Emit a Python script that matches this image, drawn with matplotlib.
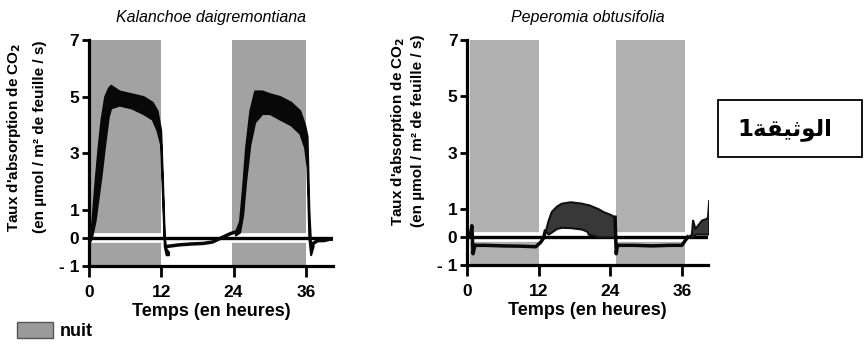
import numpy as np
import matplotlib
matplotlib.use('Agg')
import matplotlib.pyplot as plt
from matplotlib.patches import Rectangle

plt.rcParams['font.family'] = ['Liberation Sans', 'DejaVu Sans']

# Kalanchoe daigremontiana (CAM plant)
k_nights = [(0.2, 12.0), (23.7, 36.0)]
k_t1 = [0.0, 0.4, 1.0, 1.5, 2.0, 2.6, 3.2, 3.6, 5.0, 7.0, 9.0, 10.5, 11.3, 11.9, 12.2, 12.5, 12.8, 13.2]
k_up1 = [0.0, 0.4, 2.0, 3.2, 4.2, 5.0, 5.3, 5.4, 5.2, 5.1, 5.0, 4.8, 4.5, 3.8, 2.0, 0.0, -0.4, -0.5]
k_lo1 = [-0.2, 0.0, 0.6, 1.4, 2.2, 3.3, 4.3, 4.6, 4.7, 4.6, 4.4, 4.2, 3.8, 3.3, 1.5, -0.3, -0.6, -0.6]
k_td = [13.2, 15.0, 17.0, 19.0, 20.5, 21.5, 22.5, 23.5, 24.3]
k_vd = [-0.3, -0.25, -0.22, -0.2, -0.15, -0.05, 0.05, 0.15, 0.2]
k_t2 = [24.3, 25.0, 25.5, 26.0, 26.7, 27.5, 28.7, 30.0, 31.7, 33.5, 35.0, 35.8, 36.2, 36.5, 36.8, 37.2]
k_up2 = [0.2, 0.6, 1.8, 3.2, 4.5, 5.2, 5.2, 5.1, 5.0, 4.8, 4.5, 4.0, 3.6, 1.0, -0.3, -0.2]
k_lo2 = [0.1, 0.2, 0.8, 2.0, 3.3, 4.1, 4.4, 4.4, 4.2, 4.0, 3.7, 3.2, 2.5, 0.0, -0.6, -0.3]
k_t3 = [37.2, 38.0, 39.0, 40.0, 40.5]
k_v3 = [-0.2, -0.1, -0.1, -0.05, -0.05]

# Peperomia obtusifolia (C3 plant)
p_nights = [(0.5, 12.0), (25.0, 36.5)]
p_tn1 = [0.5, 0.8, 1.0, 1.3, 3.0, 6.0, 9.0, 11.5, 12.3, 12.8, 13.1]
p_vn1 = [0.0, 0.4, -0.6, -0.3, -0.3, -0.32, -0.33, -0.35, -0.2, -0.05, 0.2]
p_td = [13.1, 13.6, 14.1, 15.0, 15.8, 17.3, 19.2, 20.1, 20.3, 22.0, 22.8, 24.0, 24.8]
p_up = [0.2, 0.6, 0.9, 1.1, 1.2, 1.25, 1.2, 1.15, 1.15, 1.0, 0.9, 0.8, 0.7]
p_lo = [0.2, 0.1, 0.17, 0.3, 0.34, 0.33, 0.28, 0.2, 0.1, 0.0, 0.0, 0.0, 0.0]
p_tn2 = [24.8, 25.0, 25.2, 25.5, 28.0, 31.0, 34.0, 36.0, 37.0]
p_vn2 = [0.7, -0.6, -0.3, -0.3, -0.3, -0.32, -0.3, -0.3, 0.0]
p_t3 = [37.0, 37.6, 37.8, 38.2, 39.3, 40.0, 40.3, 40.5]
p_up3 = [0.0, 0.1, 0.6, 0.3, 0.6, 0.65, 0.7, 1.3]
p_lo3 = [0.0, 0.0, 0.0, 0.1, 0.1, 0.1, 0.1, 0.1]

yticks = [-1, 0, 1, 3, 5, 7]
ytick_labels = ['- 1', '0', '1', '3', '5', '7']
xticks = [0, 12, 24, 36]

fig = plt.figure(figsize=(8.65, 3.47), dpi=100)


def setup_axes(ax, xmax, title):
    ax.set_xlim(0, xmax)
    ax.set_ylim(-1, 7)
    for s in ['top', 'right']:
        ax.spines[s].set_visible(False)
    for s in ['left', 'bottom']:
        ax.spines[s].set_linewidth(2.3)
    ax.set_yticks(yticks)
    ax.set_yticklabels(ytick_labels, fontsize=12.5, fontweight='bold')
    ax.set_xticks(xticks)
    ax.set_xticklabels([str(x) for x in xticks], fontsize=12.5, fontweight='bold')
    ax.tick_params(axis='y', length=5, width=2, pad=2)
    ax.tick_params(axis='x', length=8, width=2, pad=5.5)
    ax.set_xlabel('Temps (en heures)', fontsize=13, fontweight='bold', labelpad=2)
    ax.set_title(title, fontsize=11.5, style='italic', pad=13)
    ax.axhline(0, color='white', lw=7, zorder=2)
    ax.axhline(0, color='black', lw=2.4, zorder=3)


# left panel
ax1 = fig.add_axes([0.1029, 0.2334, 0.282, 0.651])
for a, b in k_nights:
    ax1.axvspan(a, b, color='#a2a2a2', lw=0, zorder=0)
setup_axes(ax1, 40.5, 'Kalanchoe daigremontiana')
ax1.fill_between(k_t1, k_lo1, k_up1, color='#080808', lw=1.5, edgecolor='#080808', zorder=4)
ax1.plot(k_td, k_vd, color='#080808', lw=2.5, zorder=4)
ax1.fill_between(k_t2, k_lo2, k_up2, color='#080808', lw=1.5, edgecolor='#080808', zorder=4)
ax1.plot(k_t3, k_v3, color='#080808', lw=2.5, zorder=4)

# right panel
ax2 = fig.add_axes([0.540, 0.2363, 0.2786, 0.648])
for a, b in p_nights:
    ax2.axvspan(a, b, color='#b0b0b0', lw=0, zorder=0)
setup_axes(ax2, 40.4, 'Peperomia obtusifolia')
ax2.plot(p_tn1, p_vn1, color='#080808', lw=2.5, zorder=4)
ax2.fill_between(p_td, p_lo, p_up, color='#383838', lw=1.5, edgecolor='#111111', zorder=4)
ax2.plot(p_tn2, p_vn2, color='#080808', lw=2.5, zorder=4)
ax2.fill_between(p_t3, p_lo3, p_up3, color='#383838', lw=1.5, edgecolor='#111111', zorder=4)

ylabel = "Taux d'absorption de CO$_\\mathbf{2}$\n(en µmol / m² de feuille / s)"
fig.text(0.030, 0.605, ylabel, rotation=90, ha='center', va='center',
         fontsize=11, fontweight='bold', linespacing=1.9)
fig.text(0.4705, 0.622, ylabel, rotation=90, ha='center', va='center',
         fontsize=11, fontweight='bold', linespacing=1.35)

# legend
fig.patches.append(Rectangle((17 / 865, 1 - 338 / 347), 36 / 865, 16 / 347,
                             transform=fig.transFigure, facecolor='#9a9a9a',
                             edgecolor='#555555', lw=1))
fig.text(60 / 865, 1 - 331 / 347, 'nuit', fontsize=13, fontweight='bold', va='center')

# document label box
fig.patches.append(Rectangle((718 / 865, 1 - 157 / 347), 144 / 865, 57 / 347,
                             transform=fig.transFigure, facecolor='white',
                             edgecolor='black', lw=1.3))
arabic = '1' + '\uFE94\uFED8\uFEF4\uFE9B\uFEEE\uFEDF\uFE8D'
fig.text(785 / 865, 1 - 129 / 347, arabic, fontsize=16.5, fontweight='bold',
         ha='center', va='center', family=['DejaVu Sans'])

plt.savefig('out.png', dpi=100)
